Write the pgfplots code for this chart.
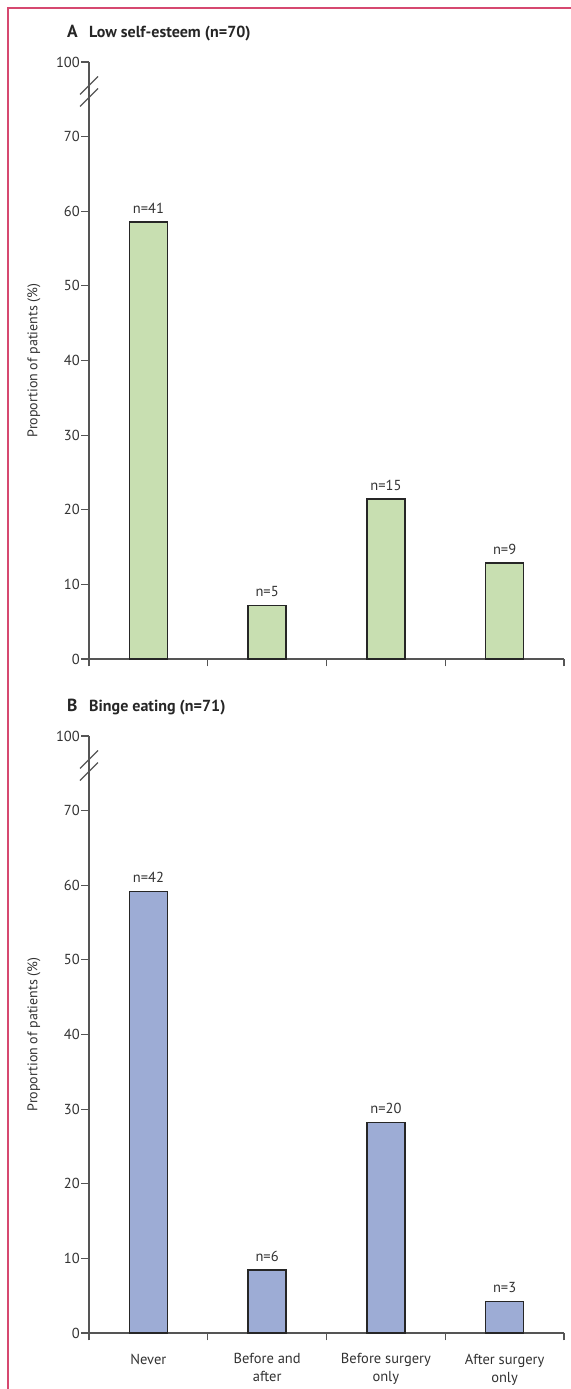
\documentclass[border=0pt]{standalone}
\usepackage{fontspec}
\setmainfont{PT Sans}
\usepackage{pgfplots}
\pgfplotsset{compat=1.18}
\definecolor{framepink}{RGB}{214,72,112}
\definecolor{bargreen}{RGB}{200,223,177}
\definecolor{barblue}{RGB}{157,172,213}
\definecolor{axisgray}{RGB}{85,85,85}
\definecolor{textgray}{RGB}{50,50,50}
\tikzset{brk/.style={axisgray, line width=1.1bp}}
\pgfplotsset{
  panel/.style={
    scale only axis, width=475bp, height=597bp,
    anchor=south west,
    xmin=-0.5, xmax=3.5, ymin=0, ymax=80,
    axis x line=bottom, axis y line=left,
    axis line style={-, draw=axisgray, line width=1.4bp},
    ytick={0,10,20,30,40,50,60,70,80},
    yticklabels={0,10,20,30,40,50,60,70,100},
    xtick={-0.5,0.5,1.5,2.5,3.5}, xticklabels={},
    tick align=outside, major tick length=7.5bp,
    tick style={draw=axisgray, line width=1.2bp},
    ticklabel style={font=\fontsize{14.5bp}{18bp}\selectfont, text=textgray},
    /pgf/number format/assume math mode=true,
    yticklabel style={inner sep=1.5bp},
    ylabel={Proportion of patients (\%)},
    every axis y label/.style={at={(axis description cs:-0.1158,0.5)}, rotate=90, anchor=center,
      font=\fontsize{14bp}{16bp}\selectfont, text=textgray},
    ybar, bar width=38bp,
    point meta=explicit symbolic,
    nodes near coords={n=\pgfplotspointmeta},
    every node near coord/.style={anchor=south, inner sep=0pt, yshift=8bp,
      font=\fontsize{14.5bp}{16bp}\selectfont, text=textgray},
    clip=false,
  },
}
\begin{document}
\begin{tikzpicture}[x=1bp,y=1bp]
\path[use as bounding box] (0,0) rectangle (571,1389);
\draw[framepink, line width=1.6bp] (8,0) -- (8,1381) -- (571,1381);

% Panel A
\node[anchor=base west, inner sep=0pt, text=black!85, font=\bfseries\fontsize{17.5bp}{18bp}\selectfont] at (67,1351) {A};
\node[anchor=base west, inner sep=0pt, text=black!85, font=\bfseries\fontsize{16bp}{18bp}\selectfont] at (89,1351) {Low self-esteem (n=70)};
\begin{axis}[panel, at={(89bp,730bp)}]
\addplot[fill=bargreen, draw=black!85, line width=1.3bp] coordinates {
  (0,58.57) [41]
  (1,7.14) [5]
  (2,21.43) [15]
  (3,12.86) [9]
};
\draw[brk] ([xshift=-9bp,yshift=-9bp]axis cs:-0.5,75.24) -- ([xshift=9bp,yshift=9bp]axis cs:-0.5,75.24);
\draw[brk] ([xshift=-9bp,yshift=-9bp]axis cs:-0.5,76.85) -- ([xshift=9bp,yshift=9bp]axis cs:-0.5,76.85);
\end{axis}

% Panel B
\node[anchor=base west, inner sep=0pt, text=black!85, font=\bfseries\fontsize{17.5bp}{18bp}\selectfont] at (67,677) {B};
\node[anchor=base west, inner sep=0pt, text=black!85, font=\bfseries\fontsize{16bp}{18bp}\selectfont] at (89,677) {Binge eating (n=71)};
\begin{axis}[panel, at={(89bp,56bp)},
  extra x ticks={0,1,2,3},
  extra x tick labels={Never,{Before and\\after},{Before surgery\\only},{After surgery\\only}},
  extra x tick style={tick style={draw=none},
    xticklabel style={align=center, inner sep=0pt, yshift=-13bp}}]
\addplot[fill=barblue, draw=black!85, line width=1.3bp] coordinates {
  (0,59.15) [42]
  (1,8.45) [6]
  (2,28.17) [20]
  (3,4.23) [3]
};
\draw[brk] ([xshift=-9bp,yshift=-9bp]axis cs:-0.5,75.24) -- ([xshift=9bp,yshift=9bp]axis cs:-0.5,75.24);
\draw[brk] ([xshift=-9bp,yshift=-9bp]axis cs:-0.5,76.85) -- ([xshift=9bp,yshift=9bp]axis cs:-0.5,76.85);
\end{axis}
\end{tikzpicture}
\end{document}
